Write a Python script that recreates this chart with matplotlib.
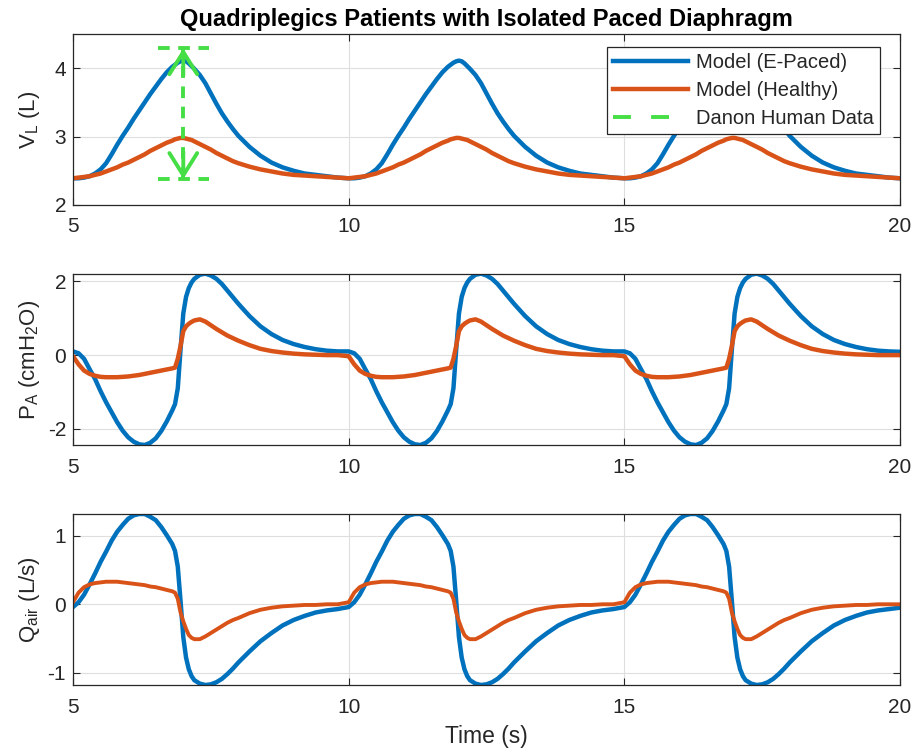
import numpy as np
import matplotlib
matplotlib.use("Agg")
import matplotlib.pyplot as plt
from matplotlib.lines import Line2D

# ------------------------------------------------------------
# Data: one breathing cycle (5 s), repeated for t = 5..20 s
# ------------------------------------------------------------
cycle_starts = [5, 10, 15]

tau = [0.0, 0.1, 0.2, 0.3, 0.4, 0.5, 0.6, 0.7, 0.8, 0.9,
       1.0, 1.1, 1.2, 1.3, 1.4, 1.5, 1.6, 1.7, 1.8, 1.85,
       1.9, 1.95, 2.0, 2.05, 2.1, 2.15, 2.2, 2.3, 2.4, 2.5,
       2.6, 2.7, 2.8, 2.9, 3.0, 3.2, 3.4, 3.6, 3.8, 4.0,
       4.2, 4.4, 4.6, 4.8, 5.0]

# lung volume (L)
vl_paced = [2.39, 2.39, 2.40, 2.42, 2.46, 2.52, 2.61, 2.74, 2.88, 3.01,
            3.13, 3.26, 3.38, 3.50, 3.62, 3.73, 3.84, 3.94, 4.02, 4.05,
            4.08, 4.10, 4.11, 4.10, 4.07, 4.03, 3.99, 3.90, 3.78, 3.63,
            3.48, 3.34, 3.22, 3.11, 3.01, 2.85, 2.72, 2.62, 2.55, 2.50,
            2.46, 2.44, 2.42, 2.40, 2.39]
vl_healthy = [2.39, 2.40, 2.41, 2.42, 2.44, 2.46, 2.49, 2.52, 2.55, 2.59,
              2.62, 2.66, 2.70, 2.74, 2.79, 2.83, 2.87, 2.91, 2.94, 2.96,
              2.97, 2.98, 2.98, 2.97, 2.96, 2.95, 2.93, 2.89, 2.85, 2.81,
              2.76, 2.72, 2.68, 2.64, 2.61, 2.56, 2.52, 2.49, 2.46, 2.44,
              2.43, 2.42, 2.41, 2.40, 2.39]

# alveolar pressure (cmH2O)
pa_paced = [0.10, 0.05, -0.10, -0.38, -0.65, -0.98, -1.28, -1.55, -1.82, -2.05,
            -2.23, -2.35, -2.42, -2.44, -2.38, -2.26, -2.06, -1.80, -1.50, -1.33,
            -0.90, 0.15, 1.13, 1.58, 1.82, 1.97, 2.07, 2.18, 2.21, 2.16,
            2.07, 1.93, 1.75, 1.57, 1.39, 1.06, 0.78, 0.57, 0.41, 0.30,
            0.22, 0.16, 0.12, 0.10, 0.09]
pa_healthy = [-0.03, -0.25, -0.42, -0.51, -0.56, -0.59, -0.60, -0.60, -0.60, -0.59,
              -0.58, -0.56, -0.54, -0.51, -0.48, -0.45, -0.42, -0.39, -0.36, -0.34,
              -0.10, 0.25, 0.65, 0.78, 0.85, 0.90, 0.94, 0.97, 0.91, 0.81,
              0.71, 0.62, 0.53, 0.46, 0.39, 0.27, 0.17, 0.11, 0.07, 0.04,
              0.02, 0.01, 0.00, 0.00, 0.00]

# airflow (L/s)
q_paced = [-0.04, 0.03, 0.14, 0.29, 0.45, 0.62, 0.77, 0.93, 1.06, 1.16,
           1.25, 1.30, 1.32, 1.32, 1.28, 1.23, 1.13, 1.01, 0.88, 0.78,
           0.55, 0.05, -0.48, -0.78, -0.95, -1.05, -1.11, -1.16, -1.18, -1.17,
           -1.14, -1.09, -1.02, -0.94, -0.85, -0.69, -0.54, -0.42, -0.31, -0.23,
           -0.17, -0.12, -0.09, -0.07, -0.05]
q_healthy = [0.03, 0.17, 0.25, 0.29, 0.31, 0.32, 0.33, 0.33, 0.33, 0.32,
             0.31, 0.30, 0.29, 0.28, 0.26, 0.25, 0.23, 0.21, 0.19, 0.17,
             0.08, -0.12, -0.25, -0.36, -0.45, -0.49, -0.51, -0.51, -0.47, -0.42,
             -0.37, -0.32, -0.27, -0.23, -0.20, -0.13, -0.08, -0.05, -0.03, -0.02,
             -0.01, -0.01, 0.00, 0.00, 0.00]

# Danon human data (range of lung volume at end of pacing)
danon_t = 7.0
danon_low = 2.38
danon_high = 4.29

BLUE = "#0072BD"
ORANGE = "#D95319"
GREEN = "#45DE45"
DARK = "#262626"

plt.rcParams["font.family"] = ["Liberation Sans", "DejaVu Sans"]
plt.rcParams["mathtext.fontset"] = "custom"
plt.rcParams["mathtext.rm"] = "Liberation Sans"
plt.rcParams["axes.unicode_minus"] = False


def full_time():
    parts = [start + np.array(tau[:-1]) for start in cycle_starts]
    return np.concatenate(parts + [[cycle_starts[-1] + tau[-1]]])


def periodic(vals):
    return np.array(vals[:-1] * len(cycle_starts) + [vals[-1]])


t = full_time()

# ------------------------------------------------------------
# Figure
# ------------------------------------------------------------
fig = plt.figure(figsize=(9.14, 7.53), dpi=100)
fig.patch.set_facecolor("white")

left, width, height = 0.0799, 0.9048, 0.2271
ax_v = fig.add_axes([left, 0.7278, width, height])
ax_p = fig.add_axes([left, 0.4090, width, height])
ax_q = fig.add_axes([left, 0.0903, width, height])


def style_axes(ax, yticks, ylim):
    ax.set_xlim(5, 20)
    ax.set_ylim(*ylim)
    ax.set_xticks([5, 10, 15, 20])
    ax.set_yticks(yticks)
    ax.grid(True, color="#dedede", linewidth=0.8)
    ax.set_axisbelow(True)
    ax.tick_params(direction="in", length=5, width=0.8, colors=DARK,
                   labelsize=15, top=True, right=True)
    ax.tick_params(axis="x", pad=9)
    ax.tick_params(axis="y", pad=5)
    for sp in ax.spines.values():
        sp.set_color(DARK)
        sp.set_linewidth(0.9)


# lung volume
ax_v.plot(t, periodic(vl_paced), color=BLUE, lw=3.2, label="Model (E-Paced)")
ax_v.plot(t, periodic(vl_healthy), color=ORANGE, lw=3.2, label="Model (Healthy)")
cap = 0.46
ax_v.plot([danon_t, danon_t], [danon_low, danon_high], color=GREEN,
          lw=2.8, dashes=(3, 2.2))
ax_v.plot([danon_t - cap, danon_t + cap], [danon_high, danon_high], color=GREEN,
          lw=2.8, dashes=(3, 2.2))
ax_v.plot([danon_t - cap, danon_t + cap], [danon_low, danon_low], color=GREEN,
          lw=2.8, dashes=(3, 2.2))
for tip, tail in [(danon_high, danon_high - 0.4), (danon_low, danon_low + 0.4)]:
    ax_v.annotate("", xy=(danon_t, tip), xytext=(danon_t, tail),
                  arrowprops=dict(arrowstyle="->,head_length=16,head_width=10",
                                  mutation_scale=1, color=GREEN, lw=2.8,
                                  shrinkA=0, shrinkB=0))
style_axes(ax_v, [2, 3, 4], (2, 4.5))
ax_v.set_ylabel(r"V$_\mathregular{L}$ (L)", fontsize=16, color=DARK, labelpad=9)
ax_v.set_title("Quadriplegics Patients with Isolated Paced Diaphragm",
               fontsize=17, fontweight="bold", color="black", pad=6)

handles, labels = ax_v.get_legend_handles_labels()
handles.append(Line2D([], [], color=GREEN, lw=2.8, dashes=(4.6, 5.2)))
labels.append("Danon Human Data")
leg = ax_v.legend(handles, labels, loc="upper right", bbox_to_anchor=(0.9757, 0.925),
                  fontsize=14.5, fancybox=False, framealpha=1, edgecolor=DARK,
                  handlelength=3.7, handletextpad=0.4, labelspacing=0.45,
                  borderpad=0.3, borderaxespad=0)
leg.get_frame().set_linewidth(0.9)
for txt in leg.get_texts():
    txt.set_color(DARK)

# alveolar pressure
ax_p.plot(t, periodic(pa_paced), color=BLUE, lw=3.2)
ax_p.plot(t, periodic(pa_healthy), color=ORANGE, lw=3.2)
style_axes(ax_p, [-2, 0, 2], (-2.44, 2.2))
ax_p.set_ylabel(r"P$_\mathregular{A}$ (cmH$_\mathregular{2}$O)", fontsize=16, color=DARK)

# airflow
ax_q.plot(t, periodic(q_paced), color=BLUE, lw=3.2)
ax_q.plot(t, periodic(q_healthy), color=ORANGE, lw=2.8)
style_axes(ax_q, [-1, 0, 1], (-1.18, 1.32))
ax_q.set_ylabel(r"Q$_\mathregular{air}$ (L/s)", fontsize=16, color=DARK)
ax_q.set_xlabel("Time (s)", fontsize=16.5, color=DARK, labelpad=6)

fig.savefig("out.png", dpi=100, facecolor="white")
